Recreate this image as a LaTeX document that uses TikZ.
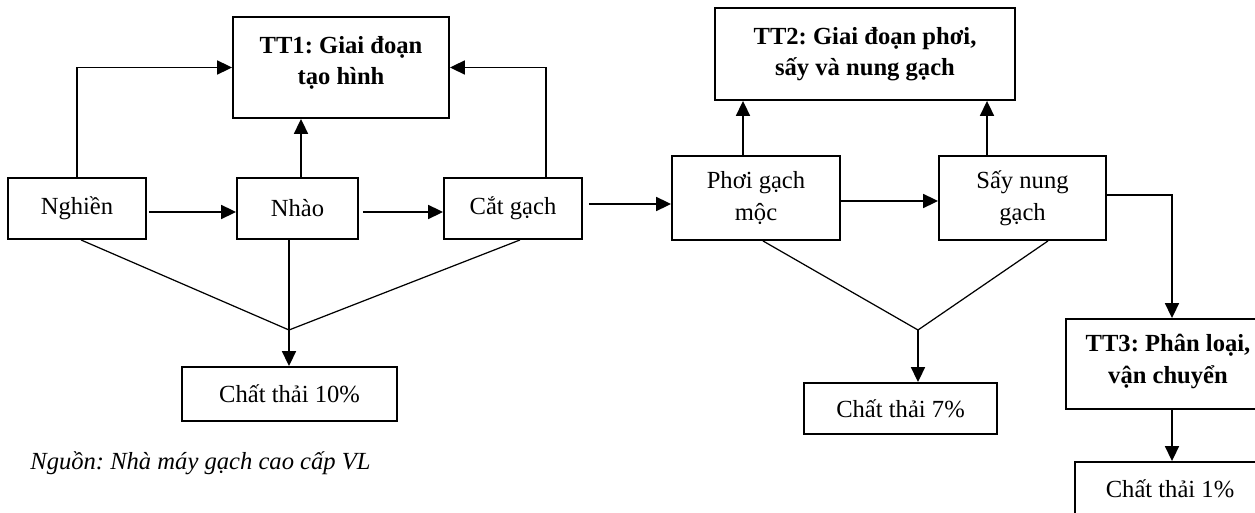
\documentclass[tikz,border=0pt]{standalone}
\usepackage{fontspec}
\setmainfont{Liberation Serif}
\usetikzlibrary{arrows.meta}
\frenchspacing

\begin{document}
\begin{tikzpicture}
          [x = 0.02cm, y = -0.02cm, >= {Triangle[length=8.5pt, width=8pt]},
           font = \fontsize{14}{18}\selectfont,
           box/.style = {draw, line width=1.1pt, align=center, inner sep=0pt},
           stage/.style = {box, font=\fontsize{14}{18}\selectfont\bfseries},
           link/.style = {line width=0.85pt},
           waste/.style = {line width=0.7pt}]
          \useasboundingbox (0,0) rectangle (1255,513);
          \clip (0,0) rectangle (1255,513);
          \node[stage, minimum width=4.32cm, minimum height=2.02cm] (tt1) at (341,67.5) {TT1: Giai đoạn\\tạo hình\vphantom{\rule[-8pt]{0pt}{1pt}}};
          \node[stage, minimum width=6cm, minimum height=1.84cm] (tt2) at (865,54) {TT2: Giai đoạn phơi,\\sấy và nung gạch};
          \node[stage, minimum width=4.08cm, minimum height=1.8cm] (tt3) at (1168,364) {TT3: Phân loại,\\vận chuyển\vphantom{\rule[-6pt]{0pt}{1pt}}};
          \node[box, minimum width=2.76cm, minimum height=1.22cm] (nghien) at (77,208.5) {Nghiền};
          \node[box, minimum width=2.42cm, minimum height=1.22cm] (nhao) at (297.5,208.5) {Nhào};
          \node[box, minimum width=2.76cm, minimum height=1.22cm] (catgach) at (513,208.5) {Cắt gạch};
          \node[box, minimum width=3.36cm, minimum height=1.68cm] (phoi) at (756,198) {Phơi gạch\\mộc};
          \node[box, minimum width=3.34cm, minimum height=1.68cm] (say) at (1022.5,198) {Sấy nung\\gạch};
          \node[box, minimum width=4.3cm, minimum height=1.08cm] (waste1) at (289.5,394) {Chất thải 10\%};
          \node[box, minimum width=3.86cm, minimum height=1.02cm] (waste2) at (900.5,408.5) {Chất thải 7\%};
          \node[box, minimum width=3.8cm, minimum height=1.08cm] (waste3) at (1170,489) {Chất thải 1\%};
          \node[anchor=west, inner sep=0pt, font=\fontsize{14}{18}\selectfont\itshape] (source) at (30,463) {Nguồn: Nhà máy gạch cao cấp VL};
          \coordinate (v1) at (289,330);
          \coordinate (v2) at (918,330);
          \draw[->, link] (nghien.north) |- (tt1.west);
          \draw[->, link] ([xshift=0.07cm]nhao.north) coordinate (a) -- (a |- tt1.south);
          \draw[->, link] ([xshift=0.66cm]catgach.north) |- (tt1.east);
          \draw[->, link] ([xshift=0.04cm, yshift=-0.07cm]nghien.east) coordinate (b) -- (b -| nhao.west);
          \draw[->, link] ([xshift=0.08cm, yshift=-0.07cm]nhao.east) coordinate (c) -- (c -| catgach.west);
          \draw[->, link] ([xshift=0.12cm, yshift=0.09cm]catgach.east) coordinate (d) -- (d -| phoi.west);
          \draw[->, link] ([yshift=-0.06cm]phoi.east) coordinate (e) -- (e -| say.west);
          \draw[->, link] ([xshift=-0.26cm]phoi.north) coordinate (f) -- (f |- tt2.south);
          \draw[->, link] ([xshift=-0.71cm]say.north) coordinate (g) -- (g |- tt2.south);
          \draw[->, link] ([yshift=0.06cm]say.east) -| ([xshift=0.08cm]tt3.north);
          \draw[->, link] ([xshift=0.08cm]tt3.south) coordinate (h) -- (h |- waste3.north);
          \draw[waste] ([xshift=0.08cm]nghien.south) -- (v1) -- ([xshift=0.14cm]catgach.south);
          \draw[link] (nhao.south -| v1) -- (v1);
          \draw[->, link] (v1) -- (v1 |- waste1.north);
          \draw[waste] ([xshift=0.14cm]phoi.south) -- (v2) -- ([xshift=0.51cm]say.south);
          \draw[->, link] (v2) -- (v2 |- waste2.north);
        \end{tikzpicture}
\end{document}
